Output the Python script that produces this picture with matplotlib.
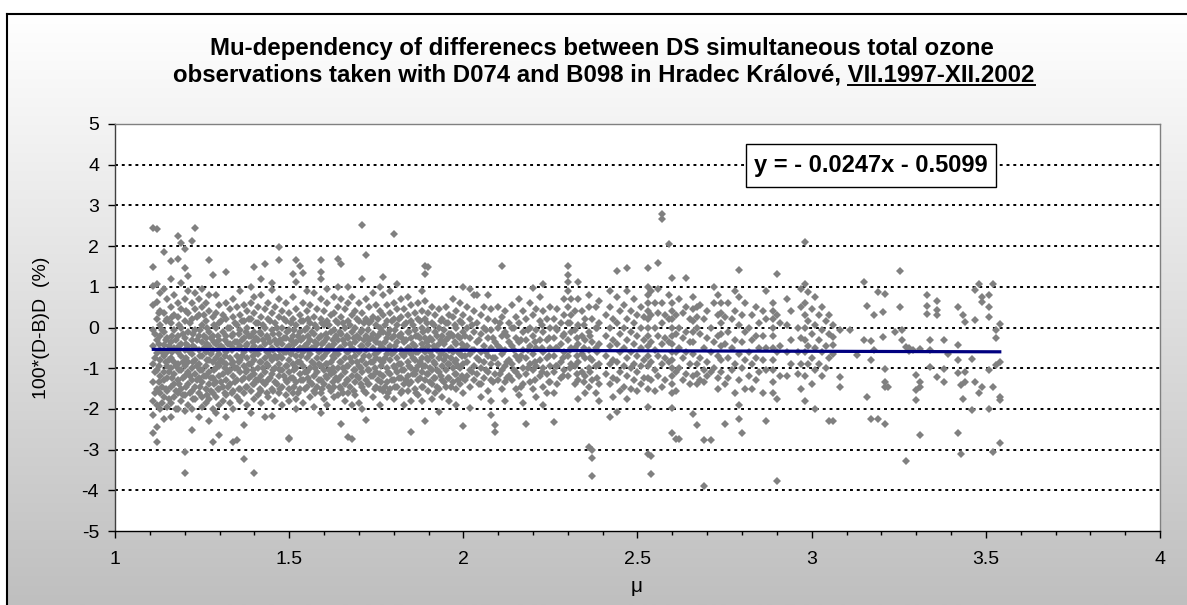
import matplotlib
matplotlib.use('Agg')
import matplotlib.pyplot as plt
import numpy as np
from matplotlib.lines import Line2D
from matplotlib.patches import Rectangle
from matplotlib.colors import LinearSegmentedColormap

plt.rcParams['font.family'] = ['Liberation Sans', 'DejaVu Sans']
plt.rcParams['axes.unicode_minus'] = False

# ---- data: (mu, [100*(D-B)/D values]), column by column ----
cols_a = [
    (1.11, [2.45, 1.48, 1.02, 0.55, -0.05, -0.45, -0.9, -1.35, -1.8, -2.15, -2.6]),
    (1.12, [2.41, 1.08, 0.62, 0.2, -0.3, -0.62, -1.05, -1.5, -1.9, -2.45, -2.82]),
    (1.13, [0.85, 0.4, 0.05, -0.2, -0.55, -0.8, -1.2, -1.6, -2.0]),
    (1.14, [1.85, 0.95, 0.35, -0.1, -0.42, -0.7, -1.1, -1.3, -1.7, -2.25]),
    (1.15, [0.7, 0.2, -0.25, -0.6, -0.95, -1.25, -1.55, -1.95]),
    (1.16, [1.63, 1.2, 0.5, 0.1, -0.35, -0.75, -1.0, -1.45, -1.85, -2.2]),
    (1.17, [0.8, 0.3, -0.05, -0.5, -0.85, -1.15, -1.4, -1.7]),
    (1.18, [2.24, 1.69, 0.6, 0.25, -0.2, -0.6, -0.9, -1.3, -1.6, -2.0]),
    (1.19, [2.08, 1.1, 0.45, 0.0, -0.4, -0.7, -1.05, -1.5, -1.8]),
    (1.20, [1.93, 1.47, 0.7, 0.15, -0.25, -0.55, -0.95, -1.2, -1.65, -2.05, -3.06, -3.58]),
    (1.21, [1.26, 0.9, 0.35, -0.1, -0.45, -0.85, -1.1, -1.4, -1.9]),
    (1.22, [2.12, 0.6, 0.2, -0.3, -0.65, -1.0, -1.3, -1.55, -2.0, -2.53]),
    (1.23, [2.45, 0.85, 0.45, -0.05, -0.5, -0.8, -1.15, -1.45, -1.75]),
    (1.24, [0.7, 0.3, -0.2, -0.55, -0.9, -1.25, -1.6, -2.2]),
    (1.25, [0.95, 0.5, 0.05, -0.35, -0.7, -1.05, -1.35, -1.7, -1.95]),
    (1.26, [0.6, 0.15, -0.25, -0.6, -0.95, -1.2, -1.5, -1.85]),
    (1.27, [1.65, 0.8, 0.4, -0.1, -0.45, -0.8, -1.1, -1.4, -1.75, -2.3]),
    (1.28, [1.3, 0.25, -0.2, -0.55, -0.85, -1.25, -1.6, -2.0, -2.81]),
    (1.29, [0.79, 0.35, 0.0, -0.4, -0.75, -1.0, -1.35, -1.7, -2.1]),
    (1.30, [0.55, 0.1, -0.3, -0.65, -0.95, -1.2, -1.5, -1.9, -2.65]),
    (1.31, [0.3, -0.1, -0.5, -0.85, -1.15, -1.45, -1.8]),
    (1.32, [1.36, 0.6, 0.2, -0.2, -0.6, -0.9, -1.3, -1.65, -2.2]),
    (1.33, [0.45, 0.0, -0.4, -0.75, -1.05, -1.4, -1.85]),
    (1.34, [0.7, 0.25, -0.15, -0.5, -0.85, -1.2, -1.55, -2.0, -2.81]),
    (1.35, [0.5, 0.05, -0.35, -0.7, -1.0, -1.3, -1.7, -2.77]),
    (1.36, [0.9, 0.3, -0.05, -0.45, -0.8, -1.1, -1.5, -1.8]),
    (1.37, [0.55, 0.15, -0.25, -0.6, -0.95, -1.25, -1.6, -2.4, -3.24]),
    (1.38, [0.4, 0.0, -0.4, -0.75, -1.05, -1.45, -1.9]),
    (1.39, [1.0, 0.6, 0.2, -0.2, -0.55, -0.9, -1.2, -1.55, -2.1]),
    (1.40, [1.48, 0.75, 0.35, -0.1, -0.45, -0.8, -1.15, -1.4, -1.75, -3.57]),
]

cols_b = [
    (1.41, [0.5, 0.1, -0.3, -0.65, -1.0, -1.3, -1.65]),
    (1.42, [1.2, 0.8, 0.25, -0.15, -0.5, -0.85, -1.2, -1.55, -1.85]),
    (1.43, [1.55, 0.45, 0.0, -0.4, -0.75, -1.1, -1.4, -2.2]),
    (1.44, [0.6, 0.2, -0.25, -0.6, -0.95, -1.3, -1.7]),
    (1.45, [1.1, 0.91, 0.35, -0.05, -0.5, -0.8, -1.15, -1.5, -2.18]),
    (1.46, [0.5, 0.1, -0.3, -0.7, -1.0, -1.35, -1.8]),
    (1.47, [1.99, 1.65, 0.7, 0.25, -0.15, -0.55, -0.9, -1.2, -1.6]),
    (1.48, [0.4, 0.0, -0.4, -0.75, -1.05, -1.45, -1.9]),
    (1.49, [0.6, 0.15, -0.25, -0.6, -0.95, -1.3, -1.65]),
    (1.50, [0.35, -0.05, -0.45, -0.8, -1.1, -1.5, -1.8, -2.71, -2.73]),
    (1.51, [1.32, 0.75, 0.2, -0.2, -0.55, -0.9, -1.25, -1.6]),
    (1.52, [1.65, 1.11, 0.45, 0.05, -0.35, -0.7, -1.0, -1.35, -1.75, -2.0]),
    (1.53, [1.51, 0.3, -0.1, -0.5, -0.85, -1.15, -1.5]),
    (1.54, [1.33, 0.6, 0.15, -0.25, -0.6, -0.95, -1.3, -1.85]),
    (1.55, [0.9, 0.4, 0.0, -0.4, -0.75, -1.1, -1.45]),
    (1.56, [0.55, 0.1, -0.3, -0.65, -1.0, -1.35, -1.7]),
    (1.57, [0.85, 0.25, -0.15, -0.5, -0.9, -1.2, -1.55, -1.95]),
    (1.58, [0.45, 0.0, -0.4, -0.75, -1.1, -1.45]),
    (1.59, [1.65, 1.36, 1.2, 0.7, 0.2, -0.2, -0.55, -0.95, -1.3, -1.6, -2.1]),
    (1.60, [0.4, 0.05, -0.35, -0.7, -1.05, -1.4, -1.75]),
    (1.61, [0.95, 0.6, 0.15, -0.25, -0.6, -0.9, -1.25, -1.9]),
    (1.62, [0.3, -0.1, -0.5, -0.85, -1.15, -1.55]),
    (1.63, [0.75, 0.35, -0.05, -0.4, -0.75, -1.1, -1.45, -1.7]),
    (1.64, [1.69, 1.0, 0.5, 0.1, -0.3, -0.65, -1.0, -1.3, -1.65]),
    (1.65, [1.55, 0.7, 0.25, -0.15, -0.5, -0.85, -1.2, -1.5, -2.36]),
    (1.66, [0.45, 0.0, -0.4, -0.75, -1.1, -1.4, -1.8]),
    (1.67, [1.0, 0.6, 0.15, -0.25, -0.6, -0.95, -1.3, -1.6, -2.69]),
    (1.68, [0.75, 0.3, -0.1, -0.5, -0.85, -1.2, -1.9, -2.73]),
    (1.69, [0.4, 0.0, -0.35, -0.7, -1.05, -1.35, -1.65]),
    (1.70, [0.6, 0.15, -0.25, -0.6, -0.95, -1.25, -1.85]),
]

cols_c = [
    (1.71, [2.51, 1.2, 0.35, -0.05, -0.45, -0.8, -1.1, -1.45, -2.0]),
    (1.72, [1.79, 0.7, 0.2, -0.2, -0.55, -0.9, -1.3, -1.6, -2.28]),
    (1.73, [0.5, 0.1, -0.3, -0.7, -1.05, -1.4]),
    (1.74, [0.85, 0.25, -0.15, -0.5, -0.85, -1.2, -1.7]),
    (1.75, [0.55, 0.05, -0.35, -0.75, -1.1, -1.45]),
    (1.76, [1.0, 0.4, 0.0, -0.4, -0.8, -1.15, -1.5, -1.9]),
    (1.77, [1.24, 0.8, 0.3, -0.1, -0.5, -0.85, -1.2, -1.55]),
    (1.78, [0.55, 0.15, -0.25, -0.65, -1.0, -1.35, -1.7]),
    (1.79, [0.9, 0.35, -0.05, -0.45, -0.8, -1.15, -1.5]),
    (1.80, [2.3, 0.6, 0.2, -0.2, -0.6, -0.95, -1.3, -1.75]),
    (1.81, [1.08, 0.45, 0.05, -0.35, -0.75, -1.1, -1.45]),
    (1.82, [0.7, 0.25, -0.15, -0.55, -0.9, -1.25, -1.6]),
    (1.83, [0.45, 0.05, -0.35, -0.7, -1.05, -1.4, -1.9]),
    (1.84, [0.75, 0.3, -0.1, -0.5, -0.85, -1.2, -1.55]),
    (1.85, [0.55, 0.15, -0.25, -0.65, -1.0, -1.35, -1.8, -2.56]),
    (1.86, [0.35, -0.05, -0.45, -0.8, -1.15, -1.5]),
    (1.87, [0.6, 0.2, -0.2, -0.6, -0.95, -1.3, -1.65]),
    (1.88, [0.9, 0.4, 0.0, -0.4, -0.75, -1.1, -1.45, -1.8]),
    (1.89, [1.5, 1.31, 0.65, 0.2, -0.25, -0.6, -0.95, -1.3, -2.29]),
    (1.90, [1.49, 0.35, -0.05, -0.45, -0.8, -1.15, -1.55]),
    (1.91, [0.5, 0.1, -0.3, -0.7, -1.05, -1.4, -1.75]),
    (1.92, [0.3, -0.1, -0.5, -0.9, -1.25, -1.6]),
    (1.93, [0.45, 0.0, -0.4, -0.75, -1.1, -1.5, -2.07]),
    (1.94, [0.2, -0.2, -0.6, -0.95, -1.3, -1.7]),
    (1.95, [0.5, 0.1, -0.3, -0.7, -1.05, -1.45]),
    (1.96, [0.3, -0.15, -0.55, -0.9, -1.25, -1.8]),
    (1.97, [0.7, 0.25, -0.2, -0.6, -1.0, -1.35]),
    (1.98, [0.4, 0.0, -0.4, -0.8, -1.15, -1.5, -1.91]),
    (1.99, [0.6, 0.15, -0.25, -0.65, -1.0, -1.4]),
    (2.00, [1.0, 0.3, -0.1, -0.5, -0.9, -1.25, -1.6, -2.43]),
]

cols_d = [
    (2.01, [0.5, 0.0, -0.45, -0.85, -1.2]),
    (2.02, [0.95, 0.2, -0.25, -0.65, -1.05, -1.45, -1.99]),
    (2.03, [0.79, 0.4, -0.1, -0.55, -0.95, -1.3]),
    (2.04, [0.79, 0.1, -0.35, -0.75, -1.15]),
    (2.05, [0.3, -0.15, -0.6, -1.0, -1.4, -1.7]),
    (2.06, [0.5, 0.0, -0.45, -0.85, -1.25]),
    (2.07, [0.79, 0.2, -0.25, -0.7, -1.1, -1.55]),
    (2.08, [0.45, -0.05, -0.5, -0.9, -1.3, -1.8, -2.16]),
    (2.09, [0.15, -0.35, -0.75, -1.15, -2.4, -2.56]),
    (2.10, [0.5, 0.0, -0.45, -0.9, -1.3]),
    (2.11, [1.5, 0.25, -0.2, -0.65, -1.05, -1.5]),
    (2.12, [0.4, -0.1, -0.55, -0.95, -1.35, -1.8]),
    (2.13, [0.1, -0.35, -0.8, -1.2]),
    (2.14, [0.55, 0.0, -0.45, -0.9, -1.3]),
    (2.15, [0.25, -0.25, -0.7, -1.1, -1.5]),
    (2.16, [0.7, 0.1, -0.35, -0.8, -1.2, -1.65]),
    (2.17, [0.4, -0.1, -0.55, -1.0, -1.4, -1.85]),
    (2.18, [0.2, -0.3, -0.75, -1.15, -2.38]),
    (2.19, [0.6, 0.0, -0.45, -0.9, -1.35]),
    (2.20, [0.98, 0.3, -0.2, -0.65, -1.05, -1.5]),
    (2.21, [0.45, -0.05, -0.5, -0.95, -1.7]),
    (2.22, [0.75, 0.15, -0.3, -0.8, -1.2]),
    (2.23, [1.08, 0.4, -0.1, -0.6, -1.0, -1.45, -1.9]),
    (2.24, [0.2, -0.3, -0.75, -1.15, -1.6]),
    (2.25, [0.5, 0.0, -0.5, -0.95, -1.35]),
    (2.26, [0.2, -0.25, -0.7, -1.1, -1.6, -2.32]),
    (2.27, [0.45, -0.05, -0.5, -0.95, -1.4]),
    (2.28, [0.1, -0.4, -0.85, -1.25]),
    (2.29, [0.7, 0.3, -0.15, -0.6, -1.05]),
    (2.30, [1.5, 1.3, 1.12, 0.9, 0.5, 0.1, -0.3, -0.7, -1.2]),
    (2.31, [0.7, 0.3, -0.1, -0.5, -0.9]),
    (2.32, [0.4, -0.05, -0.5, -0.95, -1.4]),
    (2.33, [1.12, 0.7, 0.05, -0.4, -0.85, -1.3, -1.75]),
    (2.34, [0.4, -0.2, -0.65, -1.1]),
    (2.35, [0.2, -0.3, -0.75, -1.2, -1.6]),
    (2.36, [0.8, 0.5, -0.1, -0.55, -1.0, -1.45, -2.93]),
    (2.37, [0.2, -0.35, -0.8, -1.3, -3.0, -3.2, -3.65]),
    (2.38, [0.5, 0.0, -0.5, -0.95, -1.6]),
    (2.39, [0.65, 0.1, -0.4, -0.9, -1.4, -1.8]),
]

cols_e = [
    (2.41, [0.3, -0.2, -0.7, -1.15]),
    (2.42, [0.9, 0.5, 0.0, -0.45, -0.9, -1.4, -2.2]),
    (2.43, [0.2, -0.3, -0.8, -1.25, -1.7]),
    (2.44, [1.39, 0.75, 0.1, -0.4, -0.85, -1.3, -2.07]),
    (2.45, [0.4, -0.15, -0.6, -1.1, -1.55]),
    (2.46, [0.55, 0.0, -0.5, -0.95, -1.45]),
    (2.47, [1.46, 0.9, 0.2, -0.3, -0.75, -1.2, -1.75]),
    (2.48, [0.4, -0.1, -0.6, -1.0, -1.5]),
    (2.49, [0.7, 0.1, -0.4, -0.9, -1.3]),
    (2.50, [0.3, -0.2, -0.7, -1.1, -1.55]),
    (2.51, [0.5, 0.0, -0.5, -0.95, -1.4]),
    (2.52, [0.25, -0.3, -0.8, -1.25]),
    (2.53, [1.46, 1.0, 0.8, 0.6, 0.4, 0.2, 0.0, -0.2, -0.45, -0.7, -0.95, -1.25, -1.5, -1.95, -3.1]),
    (2.54, [0.9, 0.3, -0.35, -0.85, -1.3, -3.15, -3.6]),
    (2.55, [0.6, 0.0, -0.55, -1.05, -1.55]),
    (2.56, [1.58, 0.95, 0.35, -0.2, -0.7, -1.2]),
    (2.57, [2.8, 2.67, 0.6, 0.1, -0.4, -0.9, -1.45]),
    (2.58, [0.3, -0.25, -0.75, -1.3]),
    (2.59, [2.06, 0.8, 0.2, -0.35, -0.85]),
    (2.60, [1.22, 0.6, 0.4, 0.2, 0.0, -0.2, -0.4, -0.6, -0.8, -1.0, -1.2, -1.4, -1.6, -1.99, -2.6]),
    (2.61, [0.3, -0.15, -0.6, -1.1, -1.55, -2.73]),
    (2.62, [0.7, 0.0, -0.5, -1.0, -2.73]),
    (2.63, [0.35, -0.25, -0.75, -1.3]),
    (2.64, [1.22, 0.5, -0.1, -0.6, -1.15]),
    (2.65, [0.2, -0.35, -0.9, -1.4]),
    (2.66, [0.75, 0.45, 0.15, -0.1, -0.35, -0.65, -1.2, -2.12]),
    (2.67, [0.5, 0.25, 0.0, -0.9, -1.15, -1.4, -2.4]),
    (2.68, [0.55, -0.15, -0.75, -1.3]),
    (2.69, [0.2, -0.5, -1.05, -1.35, -2.77, -3.89]),
    (2.70, [0.4, -0.25, -0.85, -1.2]),
    (2.71, [0.0, -0.6, -1.1, -2.77]),
    (2.72, [1.0, 0.6, -0.35, -1.0]),
    (2.73, [0.8, 0.3, -0.2, -0.7, -1.25, -1.5]),
    (2.74, [0.6, 0.35, 0.1, -0.15, -0.45, -0.8, -1.1]),
    (2.75, [0.25, -0.4, -1.4, -2.36]),
    (2.76, [0.6, -0.1, -0.75, -1.25]),
    (2.77, [0.2, -0.5, -1.05]),
    (2.78, [0.9, 0.4, -0.3, -0.9, -1.6]),
    (2.79, [1.42, 0.75, 0.05, -0.65, -1.3, -1.9, -2.24]),
    (2.80, [0.3, -0.35, -1.0, -2.6]),
    (2.81, [0.6, -0.1, -0.8, -1.5]),
    (2.82, [0.0, -0.6, -1.2]),
    (2.83, [0.3, -0.3, -0.9, -1.5]),
    (2.84, [0.5, -0.2, -0.75, -1.3]),
    (2.85, [0.1, -0.5, -1.1]),
    (2.86, [0.4, -0.2, -0.8, -1.6]),
    (2.87, [0.9, 0.2, -0.5, -1.05, -2.3]),
    (2.89, [0.6, 0.4, 0.2, 0.0, -0.2, -0.5, -0.8, -1.05, -1.35, -1.6]),
    (2.90, [1.32, 0.3, -0.6, -1.75, -3.77]),
    (2.91, [0.1, -0.45, -1.2]),
    (2.93, [0.7, 0.05, -0.6, -1.2]),
    (2.94, [0.4, -0.3, -0.9]),
    (2.96, [0.0, -0.6, -1.15]),
    (2.97, [0.95, 0.5, -0.25, -0.9, -1.5]),
    (2.98, [2.1, 1.08, 0.6, 0.3, 0.0, -0.3, -0.6, -1.2, -1.8]),
    (2.99, [0.87, 0.15, -0.45, -0.9]),
    (3.00, [0.45, -0.15, -0.75, -1.4]),
    (3.01, [0.75, 0.05, -0.5, -1.05, -2.0]),
    (3.02, [0.3, -0.3, -0.9]),
    (3.03, [0.5, -0.05, -0.6, -1.2]),
    (3.04, [0.15, -0.45, -1.0]),
    (3.05, [0.3, -0.15, -0.75, -2.3]),
]

cols_f = [
    (3.06, [0.05, -0.23, -0.44, -0.64, -2.3]),
    (3.08, [-0.07, -1.21, -1.46]),
    (3.11, [-0.05]),
    (3.13, [-0.68]),
    (3.15, [1.12, -0.31]),
    (3.16, [0.54, -1.7]),
    (3.17, [-0.34, -0.8, -2.24]),
    (3.18, [0.3, -0.56]),
    (3.19, [0.87, -2.25]),
    (3.205, [0.37, -0.23]),
    (3.21, [0.83, -1.01, -1.34, -1.46, -2.36]),
    (3.22, [-1.46]),
    (3.24, [-0.11]),
    (3.255, [1.38, 0.5]),
    (3.26, [-0.07, -0.31]),
    (3.27, [-0.48, -3.27]),
    (3.28, [-0.5, -0.58]),
    (3.29, [-0.55]),
    (3.30, [-1.17, -1.54, -1.79]),
    (3.31, [-0.52, -1.34, -1.46, -2.63]),
    (3.33, [0.79, 0.54, 0.32]),
    (3.34, [-0.56, -0.31, -0.97]),
    (3.36, [0.64, 0.42, 0.3, -1.21]),
    (3.38, [-0.31, -1.34, -1.01]),
    (3.39, [-0.64]),
    (3.42, [0.5, -0.44, -0.8, -1.13, -2.59]),
    (3.43, [-1.42, -3.1]),
    (3.435, [0.3, -1.75]),
    (3.44, [0.14, -1.34, -1.09]),
    (3.46, [-0.77, -2.03]),
    (3.47, [0.91, 0.18, -1.34]),
    (3.48, [1.08, -1.62]),
    (3.49, [0.75, 0.63, -1.46]),
    (3.51, [0.79, 0.5, 0.26, -1.05, -2.0]),
    (3.52, [1.08, -1.46, -3.06]),
    (3.53, [-0.07, -0.27, -0.93]),
    (3.54, [0.09, -0.85, -1.71, -1.79, -2.85]),
]

# extra points inside the dense band (between the columns above)
cols_core = [
    (1.115, [-0.15, -0.75, -1.1, -1.6]), (1.125, [0.35, -0.4, -0.95, -1.35]),
    (1.135, [-0.05, -0.6, -1.45, -1.85]), (1.145, [0.15, -0.3, -0.85, -1.5]),
    (1.155, [-0.45, -0.8, -1.1, -1.75]), (1.165, [0.25, -0.2, -0.6, -1.25]),
    (1.175, [-0.3, -0.95, -1.55, -2.0]), (1.185, [0.05, -0.45, -1.05, -1.4]),
    (1.195, [-0.15, -0.85, -1.25, -1.65]), (1.205, [0.4, -0.4, -0.75, -1.45]),
    (1.215, [0.1, -0.6, -1.2, -1.6]), (1.225, [-0.15, -0.45, -0.85, -1.75]),
    (1.235, [0.25, -0.3, -0.95, -1.3]), (1.245, [-0.05, -0.7, -1.05, -1.45]),
    (1.255, [0.3, -0.2, -0.5, -1.2]), (1.265, [0.0, -0.4, -0.8, -1.65]),
    (1.275, [-0.25, -0.65, -1.25, -1.55]), (1.285, [0.05, -0.35, -1.05, -1.4]),
    (1.295, [-0.2, -0.55, -0.9, -1.5]), (1.305, [0.15, -0.45, -0.8, -1.35]),
    (1.315, [-0.3, -0.7, -1.0, -1.6]), (1.325, [0.0, -0.4, -1.1, -1.45]),
    (1.335, [-0.2, -0.55, -0.9, -1.6]), (1.345, [0.1, -0.35, -1.0, -1.35]),
    (1.355, [-0.15, -0.5, -0.85, -1.5]), (1.365, [0.15, -0.3, -0.7, -1.3]),
    (1.375, [-0.1, -0.45, -1.1, -1.45]), (1.385, [0.2, -0.2, -0.9, -1.25]),
    (1.395, [-0.35, -0.7, -1.05, -1.4]), (1.405, [0.1, -0.25, -0.6, -1.3]),
    (1.415, [-0.1, -0.5, -0.85, -1.5]), (1.425, [0.05, -0.3, -1.0, -1.35]),
    (1.435, [-0.2, -0.6, -0.9, -1.6]), (1.445, [0.15, -0.35, -0.7, -1.25]),
    (1.455, [-0.15, -0.55, -1.05, -1.55]), (1.465, [0.0, -0.4, -0.75, -1.4]),
    (1.475, [-0.3, -0.7, -1.05, -1.5]), (1.485, [0.2, -0.25, -0.6, -1.2]),
    (1.495, [-0.1, -0.5, -0.95, -1.35]), (1.505, [0.1, -0.3, -0.65, -1.25]),
    (1.515, [-0.05, -0.4, -1.05, -1.45]), (1.525, [-0.2, -0.55, -0.85, -1.6]),
    (1.535, [0.15, -0.3, -0.7, -1.3]), (1.545, [-0.05, -0.45, -1.1, -1.5]),
    (1.555, [0.2, -0.2, -0.55, -1.25]), (1.565, [-0.1, -0.5, -0.85, -1.4]),
    (1.575, [0.05, -0.35, -1.0, -1.6]), (1.585, [-0.25, -0.6, -0.9, -1.3]),
    (1.595, [0.1, -0.4, -0.75, -1.5]), (1.605, [-0.15, -0.55, -0.9, -1.2]),
    (1.615, [0.05, -0.45, -1.05, -1.45]), (1.625, [-0.3, -0.7, -1.0, -1.35]),
    (1.635, [0.15, -0.2, -0.6, -1.25]), (1.645, [-0.1, -0.5, -0.85, -1.45]),
    (1.655, [0.1, -0.3, -1.0, -1.6]), (1.665, [-0.2, -0.6, -0.95, -1.3]),
    (1.675, [0.05, -0.4, -0.75, -1.45]), (1.685, [-0.25, -0.55, -1.05, -1.55]),
    (1.695, [0.2, -0.2, -0.85, -1.2]), (1.705, [-0.1, -0.45, -1.0, -1.4]),
    (1.715, [0.1, -0.3, -0.7, -1.55]), (1.725, [-0.05, -0.4, -1.05, -1.4]),
    (1.735, [0.15, -0.25, -0.85, -1.2]), (1.745, [-0.3, -0.65, -1.0, -1.5]),
    (1.755, [0.2, -0.2, -0.6, -1.3]), (1.765, [-0.1, -0.5, -0.95, -1.35]),
    (1.775, [0.05, -0.35, -0.75, -1.45]), (1.785, [-0.15, -0.55, -1.1, -1.6]),
    (1.795, [0.15, -0.25, -0.65, -1.3]), (1.805, [-0.05, -0.45, -1.0, -1.45]),
    (1.815, [0.2, -0.2, -0.9, -1.25]), (1.825, [-0.25, -0.65, -1.05, -1.55]),
    (1.835, [0.1, -0.3, -0.6, -1.3]), (1.845, [-0.1, -0.5, -0.95, -1.4]),
    (1.855, [0.05, -0.4, -0.75, -1.15]), (1.865, [-0.2, -0.6, -1.05, -1.6]),
    (1.875, [0.15, -0.25, -0.85, -1.25]), (1.885, [-0.1, -0.5, -0.95, -1.45]),
    (1.895, [0.1, -0.35, -0.75, -1.15]), (1.905, [-0.25, -0.6, -1.0, -1.35]),
    (1.915, [0.05, -0.45, -0.85, -1.25]), (1.925, [-0.2, -0.55, -1.05, -1.45]),
    (1.935, [0.15, -0.3, -0.65, -1.2]), (1.945, [-0.05, -0.4, -0.8, -1.35]),
    (1.955, [0.1, -0.25, -0.9, -1.25]), (1.965, [-0.15, -0.5, -0.75, -1.45]),
    (1.975, [0.05, -0.35, -0.85, -1.15]), (1.985, [-0.2, -0.6, -0.95, -1.3]),
    (1.995, [0.1, -0.4, -0.7, -1.2]),
    (2.005, [-0.2, -0.7, -1.3]), (2.025, [0.05, -0.55, -1.1]),
    (2.045, [-0.3, -0.8, -1.4]), (2.065, [-0.05, -0.6, -1.05]),
    (2.085, [-0.25, -0.75, -1.35]), (2.105, [0.1, -0.5, -1.15]),
    (2.125, [-0.2, -0.85, -1.25]), (2.145, [0.0, -0.55, -1.05]),
    (2.165, [-0.3, -0.7, -1.45]), (2.185, [-0.05, -0.55, -1.0]),
    (2.205, [-0.35, -0.85, -1.3]), (2.225, [0.05, -0.5, -1.1]),
    (2.245, [-0.25, -0.7, -1.35]), (2.265, [0.0, -0.5, -0.95]),
    (2.285, [-0.2, -0.75, -1.2]), (2.305, [0.1, -0.55, -1.0]),
    (2.325, [-0.25, -0.7, -1.15]), (2.345, [0.05, -0.5, -1.35]),
    (2.365, [-0.2, -0.75, -1.1]), (2.385, [0.0, -0.6, -1.25]),
]

# linear trend shown on the chart
slope = -0.0247
intercept = -0.5099
trend_x = [1.11, 3.54]

x_ticks = [1, 1.5, 2, 2.5, 3, 3.5, 4]
x_labels = ['1', '1.5', '2', '2.5', '3', '3.5', '4']
y_ticks = [-5, -4, -3, -2, -1, 0, 1, 2, 3, 4, 5]
y_labels = ['-5', '-4', '-3', '-2', '-1', '0', '1', '2', '3', '4', '5']

title1 = 'Mu-dependency of differenecs between DS simultaneous total ozone'
title2 = 'observations taken with D074 and B098 in Hradec Králové, VII.1997-XII.2002'
title_ul = 'VII.1997-XII.2002'

mu = []
dev = []
for cols in (cols_a, cols_b, cols_c, cols_d, cols_e, cols_f, cols_core):
    for x, ys in cols:
        for y in ys:
            mu.append(x)
            dev.append(y)

W, H = 1187, 605
fig = plt.figure(figsize=(W / 100, H / 100), dpi=100)

# background: grey gradient chart area with black frame
bg = fig.add_axes([0, 0, 1, 1], zorder=-10)
bg.set_xlim(0, W)
bg.set_ylim(H, 0)
bg.axis('off')
grad = np.linspace(0, 1, 256).reshape(-1, 1)
cmap = LinearSegmentedColormap.from_list('g', ['#ffffff', '#bfbfbf'])
bg.imshow(grad, cmap=cmap, aspect='auto', extent=[7, W, H, 14], zorder=0)
bg.plot([7, 7], [H, 14], color='black', lw=1.5, solid_capstyle='projecting', zorder=2)
bg.plot([7, W], [14, 14], color='black', lw=1.5, solid_capstyle='projecting', zorder=2)

# plot area
left, right, top, bottom = 115, 1160, 124, 531
ax = fig.add_axes([left / W, 1 - bottom / H, (right - left) / W, (bottom - top) / H])
ax.set_facecolor('white')
ax.set_xlim(1, 4)
ax.set_ylim(-5, 5)

for g in y_ticks[1:]:
    ax.axhline(g, color='black', lw=1.4, linestyle=(0, (1.5, 2)), zorder=1)

ax.plot(mu, dev, linestyle='none', marker='D', markersize=4.2,
        markerfacecolor='#808080', markeredgewidth=0, zorder=2)

tx = np.array(trend_x)
ax.plot(tx, slope * tx + intercept, color='#000080', lw=2.3, zorder=3)

ax.set_xticks(x_ticks)
ax.set_xticklabels(x_labels)
ax.set_xticks(np.arange(1, 4.001, 0.1), minor=True)
ax.set_yticks(y_ticks)
ax.set_yticklabels(y_labels)
ax.tick_params(axis='x', which='major', direction='out', length=5, width=1, labelsize=14, pad=9.5)
ax.tick_params(axis='x', which='minor', direction='out', length=3.2, width=1)
ax.tick_params(axis='y', which='major', direction='out', length=5, width=1, labelsize=14, pad=6.5)

ax.spines['left'].set_color('#404040')
ax.spines['bottom'].set_color('black')
ax.spines['right'].set_color('#808080')
ax.spines['top'].set_color('#808080')
for s in ax.spines.values():
    s.set_linewidth(1)

ax.set_xlabel('μ', fontsize=15)
ax.xaxis.set_label_coords(0.4995, -0.112)
ax.set_ylabel('100*(D-B)D  (%)', fontsize=14)
ax.yaxis.set_label_coords(-0.062, 0.5)

# equation box
bx0, bx1, by0, by1 = 746, 996, 144, 187
fig.add_artist(Rectangle((bx0 / W, 1 - by1 / H), (bx1 - bx0) / W, (by1 - by0) / H,
                         transform=fig.transFigure, facecolor='white',
                         edgecolor='black', lw=1, zorder=5))
fig.text((bx0 + bx1) / 2 / W, 1 - (by0 + by1) / 2 / H, 'y = - 0.0247x - 0.5099',
         ha='center', va='center', fontsize=17, fontweight='bold', zorder=6)

# title
tsize = 17.3
fig.text(602 / W, 1 - 48 / H, title1, ha='center', va='center', fontsize=tsize, fontweight='bold')
t2 = fig.text(604 / W, 1 - 75 / H, title2, ha='center', va='center', fontsize=tsize, fontweight='bold')

r = fig.canvas.get_renderer()
bb = t2.get_window_extent(r)
tmp = fig.text(0, 0, title_ul, fontsize=tsize, fontweight='bold')
pw = tmp.get_window_extent(r).width
tmp.remove()
uy = bb.y0 + 2
fig.add_artist(Line2D([(bb.x1 - pw) / W, bb.x1 / W], [uy / H, uy / H],
                      transform=fig.transFigure, color='black', lw=1.4))

fig.savefig('out.png', dpi=100)
